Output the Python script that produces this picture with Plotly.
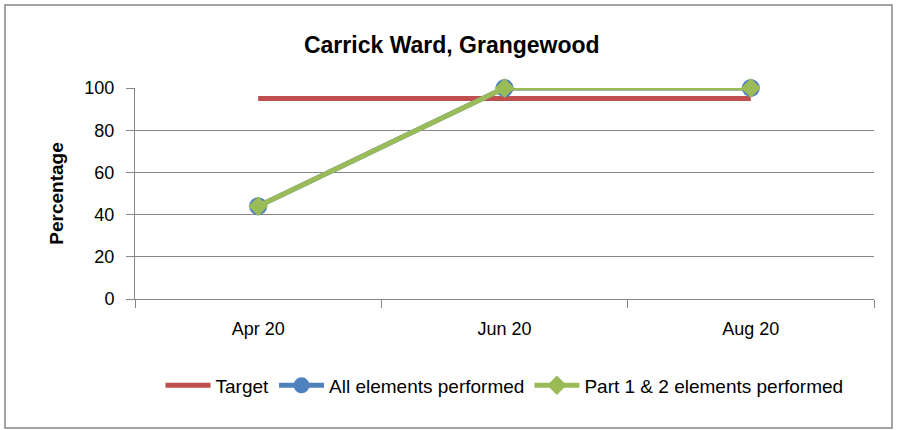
import plotly.graph_objects as go

months = ["Apr 20", "Jun 20", "Aug 20"]
target = [95, 95, 95]
all_elements = [44, 100, 100]
part_1_2 = [44, 100, 100]

FONT = "Liberation Sans, Arial, sans-serif"

fig = go.Figure()
fig.add_trace(go.Scatter(
    x=months, y=target, name="Target", mode="lines",
    line=dict(color="#C0504D", width=5), cliponaxis=False,
))
fig.add_trace(go.Scatter(
    x=months, y=all_elements, name="All elements performed", mode="lines+markers",
    line=dict(color="#4F81BD", width=5), cliponaxis=False,
    marker=dict(symbol="circle", size=18, color="#4F81BD"),
))
fig.add_trace(go.Scatter(
    x=months, y=part_1_2, name="Part 1 & 2 elements performed", mode="lines+markers",
    line=dict(color="#9BBB59", width=5), cliponaxis=False,
    marker=dict(symbol="diamond", size=15, color="#9BBB59"),
))

fig.update_layout(
    width=900, height=430,
    paper_bgcolor="white", plot_bgcolor="white",
    margin=dict(l=135, r=26, t=88, b=131),
    font=dict(family=FONT, size=18, color="black"),
    title=dict(text="<b>Carrick Ward, Grangewood</b>", x=0.502, xanchor="center",
               y=0.895, yanchor="middle", font=dict(size=23, family=FONT)),
    xaxis=dict(
        type="category", tickson="boundaries", ticks="outside", ticklen=8,
        tickcolor="#868686", showline=True, linecolor="#868686", linewidth=1,
        showgrid=False, range=[-0.5, 2.5], tickfont=dict(size=18),
        ticklabelstandoff=13,
    ),
    yaxis=dict(
        range=[0, 100], dtick=20, ticks="outside", ticklen=8, tickcolor="#868686",
        showline=True, linecolor="#868686", linewidth=1,
        showgrid=True, gridcolor="#868686", gridwidth=1, zeroline=False,
        tickfont=dict(size=18), ticklabelstandoff=8,
        title=dict(text="<b>Percentage</b>", font=dict(size=19), standoff=15),
    ),
    legend=dict(orientation="h", x=0.5, xanchor="center", y=-0.41, yanchor="middle",
                font=dict(size=19), itemwidth=45, tracegroupgap=0),
    shapes=[dict(type="rect", xref="paper", yref="paper",
                 x0=-130/739, x1=1 + 18/739, y0=-129/211, y1=1 + 83/211,
                 line=dict(color="#868686", width=1.5))],
)

fig.write_html("out.html")
